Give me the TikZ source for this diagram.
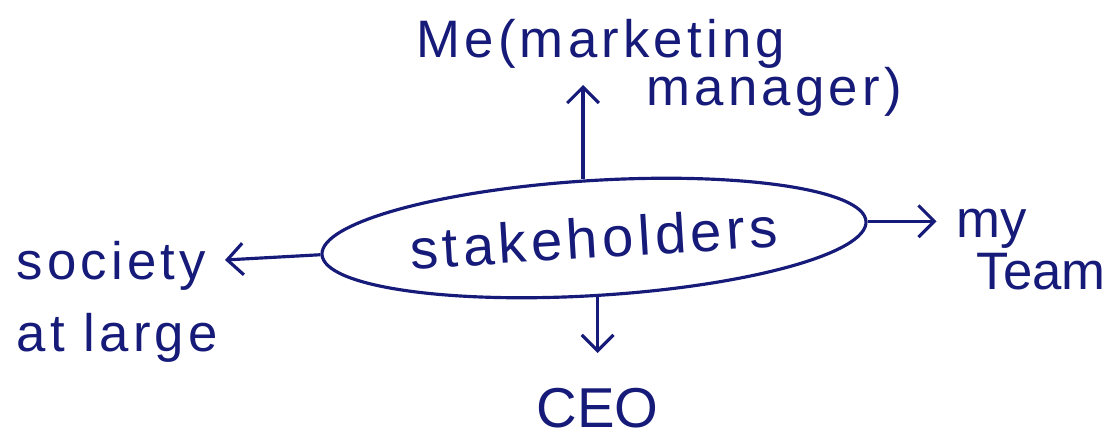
\documentclass[tikz,border=0pt]{standalone}
\usepackage{fontspec}
\setmainfont{Liberation Sans}[LetterSpace=8]
\newfontfamily\plainhand{Liberation Sans}
\usetikzlibrary{arrows.meta,positioning,shapes.geometric}
\definecolor{ink}{RGB}{22,26,120}

\begin{document}
\begin{tikzpicture}[>={Straight Barb[length=9pt,width=18pt]},line width=1.8pt,
  color=ink,inner sep=2pt,font=\fontsize{30}{36}\selectfont,
  blob/.style={ellipse,draw,rotate=3.5,minimum width=10.9cm,minimum height=2.3cm,
    font=\fontsize{32}{38}\selectfont}]

  \useasboundingbox (0,0) rectangle (22.26,-8.78);

  \node[blob] (stake) at (11.88,-4.76) {stakeholders};
  \node[align=left,anchor=north west] (me) at (8.23,-0.28)
    {Me(marketing\\[-0.3cm]\hspace*{4.6cm}manager)};
  \node[align=left,anchor=north west,font=\fontsize{30}{36}\plainhand] (team) at (19.03,-4.08)
    {my\\[-0.23cm]\hspace*{0.4cm}Team};
  \node[align=left,anchor=north west] (soc) at (0.23,-4.73) {society\\[0.17cm]at large};
  \node[below=1.72cm of stake,font=\fontsize{32}{38}\plainhand] (ceo) {CEO};

  \coordinate (metip) at (11.66,-1.7);
  \coordinate (soctip) at (4.5,-5.2);

  \path[->] (stake.north -| metip) edge (metip)
            (stake.east) edge[shorten >=0.3cm] (stake.east -| team.west)
            (stake.west) edge (soctip)
            (stake.south) edge[shorten >=0.6cm] (ceo);

\end{tikzpicture}
\end{document}
